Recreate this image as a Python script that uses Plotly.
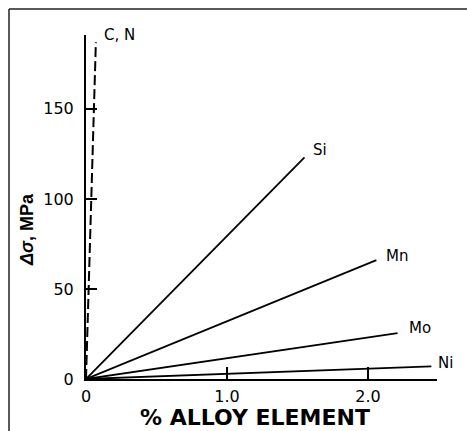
import plotly.graph_objects as go

# Data
elements = ["Si", "Mn", "Mo", "Ni"]
alloy_pct_end = [1.55, 2.06, 2.21, 2.45]
delta_sigma_end = [123, 66, 25.5, 7]

cn_label = "C, N"
cn_pct_end = 0.07
cn_sigma_end = 187

x_tickvals = [0, 1.0, 2.0]
x_ticktext = ["0", "1.0", "2.0"]
y_tickvals = [0, 50, 100, 150]
y_ticktext = ["0", "50", "100", "150"]

label_shift = {"Si": (7, 7), "Mn": (8, 4), "Mo": (9, 5), "Ni": (5, 3)}

FONT = "DejaVu Sans, Liberation Sans, Arial, sans-serif"
FONT_B = "Liberation Sans, Arial, Helvetica, sans-serif"

fig = go.Figure()

for el, xe, ye in zip(elements, alloy_pct_end, delta_sigma_end):
    fig.add_trace(go.Scatter(x=[0, xe], y=[0, ye], mode="lines",
                             line=dict(color="black", width=1.8),
                             showlegend=False, hoverinfo="skip"))
    dx, dy = label_shift[el]
    fig.add_annotation(x=xe, y=ye, text=el, showarrow=False,
                       xanchor="left", yanchor="middle", xshift=dx, yshift=dy,
                       font=dict(family=FONT, size=15, color="black"))

fig.add_trace(go.Scatter(x=[0, cn_pct_end], y=[0, cn_sigma_end], mode="lines",
                         line=dict(color="black", width=2, dash="10px,4px"),
                         showlegend=False, hoverinfo="skip"))
fig.add_annotation(x=cn_pct_end, y=cn_sigma_end, text=cn_label, showarrow=False,
                   xanchor="left", yanchor="middle", xshift=6, yshift=7,
                   font=dict(family=FONT, size=15, color="black"))

fig.update_xaxes(range=[0, 2.49], showgrid=False, zeroline=False,
                 showline=True, linecolor="black", linewidth=2,
                 tickvals=x_tickvals, ticktext=x_ticktext,
                 ticks="inside", ticklen=12, tickwidth=1.5, tickcolor="black",
                 ticklabelstandoff=2,
                 tickfont=dict(family=FONT, size=16, color="black"))
fig.update_yaxes(range=[0, 191], showgrid=False, zeroline=False,
                 showline=True, linecolor="black", linewidth=2,
                 tickvals=y_tickvals, ticktext=y_ticktext,
                 ticks="inside", ticklen=11, tickwidth=1.5, tickcolor="black",
                 ticklabelstandoff=7,
                 tickfont=dict(family=FONT, size=16, color="black"))

# Axis titles
fig.add_annotation(xref="paper", yref="paper", x=0.4815, y=-0.1105,
                   text="<b>% ALLOY ELEMENT</b>", showarrow=False,
                   xanchor="center", yanchor="middle",
                   font=dict(family=FONT, size=22, color="black"))
fig.add_annotation(xref="paper", yref="paper", x=-0.168, y=0.433,
                   text="<b><i>Δσ</i>, MPa</b>", showarrow=False, textangle=-90,
                   xanchor="center", yanchor="middle",
                   font=dict(family=FONT_B, size=18, color="black"))

# Outer frame (left and top edges visible)
fig.add_shape(type="line", xref="paper", yref="paper",
              x0=(9 - 86) / 351, x1=(9 - 86) / 351, y0=(379 - 9) / 344, y1=(379 - 435) / 344,
              line=dict(color="#222", width=1.5))
fig.add_shape(type="line", xref="paper", yref="paper",
              x0=(9 - 86) / 351, x1=(470 - 86) / 351, y0=(379 - 9) / 344, y1=(379 - 9) / 344,
              line=dict(color="#222", width=1.5))

fig.update_layout(width=467, height=431,
                  margin=dict(l=86, r=30, t=35, b=52),
                  plot_bgcolor="white", paper_bgcolor="white",
                  showlegend=False)

fig.write_html("out.html", config={"displayModeBar": False},
               post_script="document.body.style.margin='0';document.body.style.overflow='hidden';")
